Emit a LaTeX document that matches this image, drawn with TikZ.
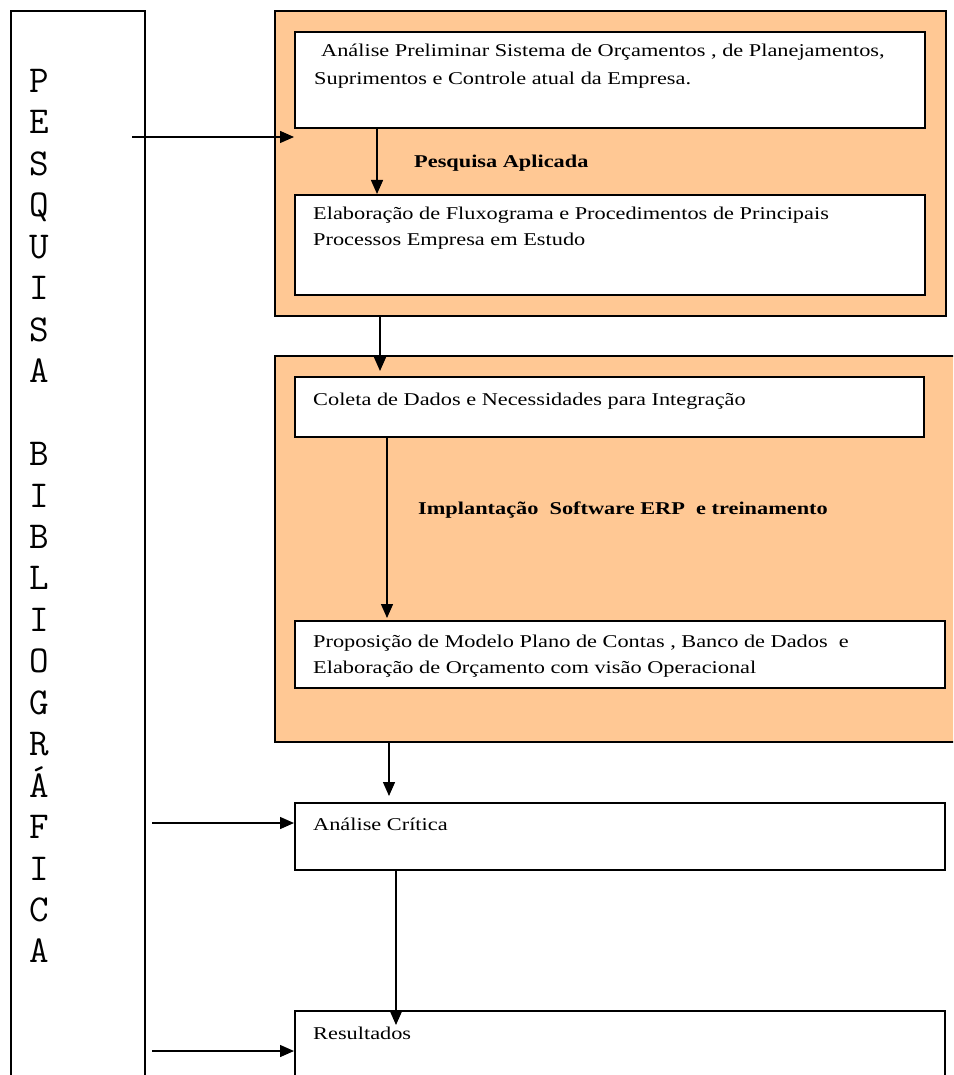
\documentclass[tikz,border=0pt]{standalone}
\usepackage{fontspec}
\setmainfont{Liberation Serif}[FakeStretch=1.24]
\usetikzlibrary{arrows.meta}
\definecolor{peach}{RGB}{255,200,148}
\begin{document}
\begin{tikzpicture}[x=1pt,y=-1pt,
  box/.style={draw=black, line width=1.6pt, fill=white, inner sep=0pt, anchor=north west},
  grp/.style={draw=black, line width=1.6pt, fill=peach, inner sep=0pt, anchor=north west},
  txt/.style={anchor=base west, inner sep=0pt, font=\fontsize{18}{26}\selectfont},
  lab/.style={anchor=base west, inner sep=0pt, font=\fontsize{18}{26}\selectfont\bfseries},
  letter/.style={anchor=base, inner sep=0pt, font=\fontsize{38}{40}\selectfont\ttfamily},
  arr/.style={-{Triangle[length=14pt,width=12pt]}, line width=1.4pt}]
\useasboundingbox (0,0) rectangle (953,1075);
\clip (0,0) rectangle (953,1075);
% left column
\node[box, minimum width=134pt, minimum height=1100pt] (bib) at (10,10) {};
\foreach \ch/\k in {P/0,E/1,S/2,Q/3,U/4,I/5,S/6,A/7,B/9,I/10,B/11,L/12,I/13,O/14,G/15,R/16,Á/17,F/18,I/19,C/20,A/21}
  \node[letter] (L\k) at (39,92.5+41.45*\k) {\ch};
% group 1
\node[grp, minimum width=671pt, minimum height=305pt] (g1) at (274,10) {};
\node[box, minimum width=630pt, minimum height=96pt] (b1) at (294,31) {};
\node[txt] (t1a) at (321,57) {Análise Preliminar Sistema de Orçamentos , de Planejamentos,};
\node[txt] (t1b) at (314,85) {Suprimentos e Controle atual da Empresa.};
\node[lab] (l1) at (414,168) {Pesquisa Aplicada};
\node[box, minimum width=630pt, minimum height=100pt] (b2) at (294,194) {};
\node[txt] (t2a) at (313,220) {Elaboração de Fluxograma e Procedimentos de Principais};
\node[txt] (t2b) at (313,246) {Processos Empresa em Estudo};
% group 2
\node[grp, minimum width=690pt, minimum height=386pt] (g2) at (274,355) {};
\node[box, minimum width=629pt, minimum height=60pt] (b3) at (294,376) {};
\node[txt] (t3) at (313,405) {Coleta de Dados e Necessidades para Integração};
\node[lab] (l2) at (418,514) {Implantação\ \ Software ERP\ \ e treinamento};
\node[box, minimum width=650pt, minimum height=67pt] (b4) at (294,620) {};
\node[txt] (t4a) at (313,647) {Proposição de Modelo Plano de Contas , Banco de Dados\ \ e};
\node[txt] (t4b) at (313,673) {Elaboração de Orçamento com visão Operacional};
% lower boxes
\node[box, minimum width=650pt, minimum height=67pt] (b5) at (294,802) {};
\node[txt] (t5) at (313,830) {Análise Crítica};
\node[box, minimum width=650pt, minimum height=100pt] (b6) at (294,1010) {};
\node[txt] (t6) at (313,1039) {Resultados};
% connectors
\coordinate (s1) at (132,137);
\draw[arr] (s1) -- (s1 -| b1.west);
\coordinate (c1) at (377,0);
\draw[arr] (b1.south -| c1) -- (b2.north -| c1);
\coordinate (c2) at (380,0);
\draw[arr, shorten >=5pt] (g1.south -| c2) -- (b3.north -| c2);
\coordinate (c3) at (387,0);
\draw[arr, shorten >=2pt] (b3.south -| c3) -- (b4.north -| c3);
\coordinate (c4) at (389,0);
\draw[arr, shorten >=6pt] (g2.south -| c4) -- (b5.north -| c4);
\coordinate (e3) at (396,1025);
\draw[arr] (b5.south -| e3) -- (e3);
\coordinate (s4) at (152,823);
\draw[arr] (s4) -- (s4 -| b5.west);
\coordinate (s5) at (152,1051);
\draw[arr] (s5) -- (s5 -| b6.west);
\end{tikzpicture}
\end{document}
